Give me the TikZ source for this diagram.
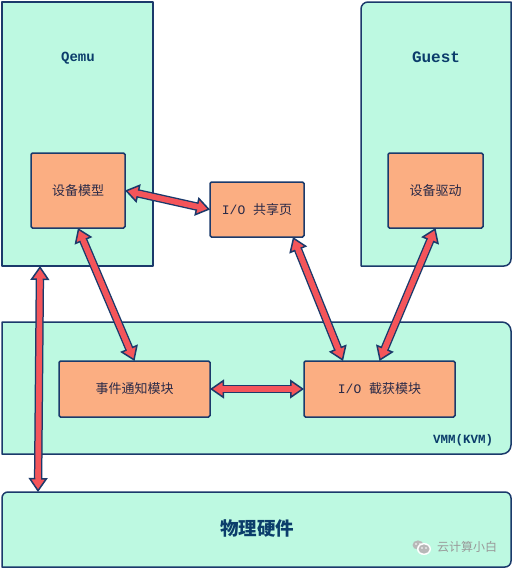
\documentclass[tikz,border=0pt]{standalone}
\usepackage{fontspec}
\setmainfont{Liberation Mono}
\newfontfamily\cjk{Noto Sans CJK SC}
\usetikzlibrary{arrows.meta,calc}
\definecolor{mint}{HTML}{BDF9E1}
\definecolor{peach}{HTML}{FBAE82}
\definecolor{navy}{HTML}{1B3A6B}
\definecolor{arrowred}{HTML}{F4555A}
\definecolor{labelblue}{HTML}{0B3D6B}
\definecolor{inktext}{HTML}{2A2A48}
\tikzset{
  panelarea/.style={anchor=north west,inner sep=0pt,outer sep=0pt},
  panelline/.style={draw=navy,fill=mint,line width=1.5pt,line join=round},
  modbox/.style={anchor=north west,inner sep=0pt,outer sep=0pt,draw=navy,fill=peach,line width=1.5pt,rounded corners=1.5pt,text=inktext,font=\fontsize{13}{13}\selectfont},
  title/.style={text=labelblue,font=\bfseries\fontsize{14}{14}\selectfont},
  conn/.style={draw=navy,line width=1.5pt,double=arrowred,double distance=5.4pt,
    {Triangle[fill=arrowred,color=navy,length=14pt,width=19pt,line width=1.5pt,sep=0pt]}-{Triangle[fill=arrowred,color=navy,length=14pt,width=19pt,line width=1.5pt,sep=0pt]}},
  conncore/.style={draw=arrowred,line width=5.4pt,shorten >=10pt,shorten <=10pt},
  watermark/.style={text=black!40,font=\cjk\fontsize{12}{12}\selectfont}
}
\newcommand{\linkpair}[2]{\draw[conn] #1 -- #2; \draw[conncore] #1 -- #2;}
\begin{document}
\begin{tikzpicture}[x=1pt,y=-1pt]
\useasboundingbox (0,0) rectangle (513,570);
\fill[white] (0,0) rectangle (513,570);
% panels
\node[panelarea,minimum width=151pt,minimum height=264pt] (qemu) at (2,2) {};
\node[panelarea,minimum width=150pt,minimum height=264pt] (guest) at (361,2) {};
\node[panelarea,minimum width=509pt,minimum height=132pt] (vmm) at (2,322) {};
\node[panelarea,minimum width=509pt,minimum height=75pt] (hw) at (2,492) {};
\draw[panelline] (qemu.south west) -- (qemu.north west) -- (qemu.north east) -- (qemu.south east) -- cycle;
\draw[panelline] (guest.south west) [rounded corners=7pt] -- (guest.north west) [sharp corners] -- (guest.north east) [rounded corners=7pt] -- (guest.south east) [sharp corners] -- cycle;
\draw[panelline] (vmm.south west) -- (vmm.north west) [rounded corners=9pt] -- (vmm.north east) -- (vmm.south east) [sharp corners] -- cycle;
\draw[panelline] (hw.south west) [rounded corners=6pt] -- (hw.north west) -- (hw.north east) -- (hw.south east) [sharp corners] -- cycle;
% modules
\node[modbox,minimum width=94pt,minimum height=75pt] (dev) at (31,153) {\cjk 设备模型};
\node[modbox,minimum width=95pt,minimum height=75pt] (drv) at (388,153) {\cjk 设备驱动};
\node[modbox,minimum width=94pt,minimum height=55pt] (share) at (210,182) {I/O {\cjk 共享页}};
\node[modbox,minimum width=151pt,minimum height=56pt] (evt) at (59,361) {\cjk 事件通知模块};
\node[modbox,minimum width=151pt,minimum height=56pt] (trap) at (304,361) {I/O {\cjk 截获模块}};
% labels
\node[title] (lq) at (78,58) {Qemu};
\node[title,font=\bfseries\fontsize{16}{16}\selectfont] (lg) at (436,57) {Guest};
\node[title,font=\bfseries\fontsize{12.5}{12.5}\selectfont] (lv) at (463,440) {VMM(KVM)};
\node[title,font=\cjk\bfseries\fontsize{18.5}{18.5}\selectfont] (lh) at (257,528) {物理硬件};
% connectors
\linkpair{(dev.east)}{(share.west)}
\linkpair{(dev.south)}{(evt.north)}
\linkpair{(evt.east)}{(trap.west)}
\linkpair{([xshift=-11pt]share.south east)}{([xshift=39pt]trap.north west)}
\linkpair{(drv.south)}{(trap.north)}
\linkpair{([xshift=38pt]qemu.south west)}{([xshift=36pt]hw.north west)}
% watermark
\node[watermark] (wm) at (467,547) {云计算小白};
\fill[black!28] (418,545) ellipse (5.5pt and 4.6pt);
\fill[white] (424,549) ellipse (7pt and 6pt);
\fill[black!28] (424,549) ellipse (5.5pt and 4.6pt);
\fill[white] (416,544) circle (.8pt) (420,544) circle (.8pt) (422,548) circle (.8pt) (426,548) circle (.8pt);
\end{tikzpicture}
\end{document}
